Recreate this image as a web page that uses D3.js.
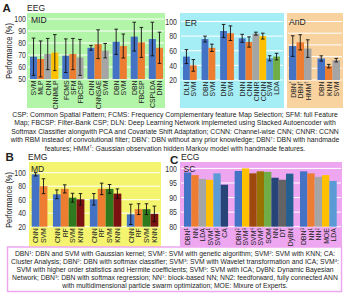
<!DOCTYPE html>
<html>
<head>
<meta charset="utf-8">
<script src="https://cdn.jsdelivr.net/npm/d3@7"></script>
<style>
  body { margin: 0; background: #fff; }
  svg { display: block; }
</style>
</head>
<body>
<svg id="chart" width="347" height="296"></svg>
<script>

// ---- data ----
const midGroups = [["SVM", "MLP", "CNN", "CNNMLP"], ["FCMS", "SFM", "FBCSP"], ["CNN", "CNNSAE", "SVM"], ["DBN", "SVM"], ["DBN", "FBCSP"], ["CSPLDA", "DNN"]];
const midValues = [[68.6, 66.7, 70.8, 72], [69.4, 70.8, 68], [76, 79, 73.6], [81, 77.5], [85.3, 80.5], [83.3, 76]];
const midErrors = [[15.5, 15, 13, 15], [14, 13, 15], [2, 12, 6], [10.5, 10], [12, 12.5], [14, 13]];
const midTicks = [50, 60, 70, 80, 90, 100];

const erGroups = [["DLN", "SVM"], ["DBN", "SVM"], ["DNN", "SVM"], ["DNN", "CNN", "CNNR", "CCNN", "SVM", "LDA"]];
const erValues = [[52, 40], [76, 64], [87, 84], [77, 72, 83.4, 80, 49.7, 52]];
const erErrors = [[9.5, 8], [4, 5], [9, 10], [5.5, 7, 2, 4, 3.5, 4.5]];
const erTicks = [20, 40, 60, 80, 100];

const andGroups = [["DBN^*", "DBN^†", "HMM^†"], ["DBN", "KNN", "SVM"]];
const andValues = [[58, 64.4, 53.7], [36.8, 23.7, 33.9]];
const andErrors = [[17.6, 13, 15], [4.5, 3, 3]];
const andTicks = [0, 20, 40, 60, 80, 100];

const emgGroups = [["CNN", "SVM"], ["CNN", "RF", "SVM", "KNN"], ["CNN", "RF", "SVM", "KNN"], ["CNN", "RF", "SVM", "KNN"]];
const emgValues = [[97.6, 80], [68, 76, 63, 60.6], [60.6, 76, 76, 69], [38.3, 46, 46, 39]];
const emgErrors = [[2.5, 11], [6.5, 6, 6.5, 8.5], [8.5, 8.5, 6.5, 7], [15, 8, 8, 11.5]];
const emgTicks = [20, 40, 60, 80, 100];

const ecgGroups = [["DBN^1", "NN", "LDA", "SVM^1", "SVM^2", "CA"], ["DBN^2", "SVM^3", "SVM^4", "SVM^5", "SOM", "NN", "DT", "DyBN"], ["DBN^3", "NN^1", "NN^2", "MOE", "LDA"]];
const ecgValues = [[98.6, 97.7, 96.4, 96.1, 98.3, 94.4], [99.1, 100, 98.3, 99, 98.8, 96.8, 96.1, 98.2], [99, 98.3, 97.1, 97.7, 95.7]];
const ecgTicks = [80, 85, 90, 95, 100];

const notesEEG = [
  "CSP: Common Spatial Pattern; FCMS: Frequency Complementary feature Map Selection; SFM: full Feature",
  "Map; FBCSP: Filter-Bank CSP; DLN: Deep Learning Network implemeted using Stacked Autoencoder with",
  "Softmax Classifier alongwith PCA and Covariate Shift Adaptation; CCNN: Channel-wise CNN; CNNR: CCNN",
  "with RBM instead of convolutional filter; DBN^*: DBN without any prior knowledge; DBN^†: DBN with handmade",
  "features; HMM^†: Gaussian observation hidden Markov model with handmade features."
];
const notesECG = [
  "DBN^1: DBN and SVM with Gaussian kernel; SVM^1: SVM with genetic algorithm; SVM^2: SVM with KNN; CA:",
  "Cluster Analysis; DBN^2: DBN with softmax classifier; SVM^3: SVM with Wavelet transformation and ICA; SVM^4:",
  "SVM with higher order statistics and Hermite coefficients; SVM^5: SVM with ICA; DyBN: Dynamic Bayesian",
  "Network; DBN^3: DBN with softmax regression; NN^1: block-based NN; NN2: feedforward, fully connected ANN",
  "with multidimensional particle swarm optimization; MOE: Mixure of Experts."
];

// ---- colours ----
const office = ["#4472C4", "#ED7D31", "#A5A5A5", "#FFC000", "#5B9BD5", "#70AD47"];
const emgColors = ["#4472C4", "#ED7D31", "#2F7A1F", "#7A1212"];
const ecgColors = [
  ["#4472C4", "#ED7D31", "#A5A5A5", "#FFC000", "#5B9BD5", "#264478"],
  ["#4472C4", "#FFC000", "#9E480E", "#997300", "#70AD47", "#264478", "#636363", "#255E91"],
  ["#4472C4", "#ED7D31", "#A5A5A5", "#FFC000", "#5B9BD5"]
];

const FONT = "'Liberation Sans', Arial, sans-serif";
const NARROW = 0.82;
const svg = d3.select("#chart");

// text with ^x superscripts
const rich = (sel, str, fs) => {
  str.split(/\^(.)/).forEach((t, i) => {
    if (!t) return;
    let ts = sel.append("tspan").text(t);
    if (i % 2) ts.attr("baseline-shift", "super").style("font-size", (fs * 0.62) + "px");
  });
  return sel;
}

const label = (x, y, str, fs, opts = {}) => {
  let t = svg.append("text")
    .attr("transform", `translate(${x},${y}) rotate(${opts.rot || 0}) scale(${opts.sx || NARROW},1)`)
    .attr("text-anchor", opts.anchor || "start")
    .attr("font-family", FONT)
    .attr("font-weight", opts.bold ? "bold" : "normal")
    .style("font-size", fs + "px")
    .attr("fill", opts.fill || "#222");
  if (opts.dy) t.attr("dy", opts.dy);
  return rich(t, str, fs);
}

const drawPanel = (p) => {
  let g = svg.append("g");
  g.append("rect")
    .attr("x", p.bg[0]).attr("y", p.bg[1])
    .attr("width", p.bg[2] - p.bg[0]).attr("height", p.bg[3] - p.bg[1])
    .attr("fill", p.fill);

  let y = d3.scaleLinear().domain(p.domain).range(p.yRange);

  let bars = [], pos = 0;
  p.groups.forEach((grp, gi) => {
    if (gi > 0) pos += p.gap;
    grp.forEach((name, bi) => {
      bars.push({
        name: name,
        value: p.values[gi][bi],
        err: p.errors ? p.errors[gi][bi] : null,
        color: p.color(gi, bi),
        pos: pos
      });
      pos += 1;
    });
  });
  let x = d3.scaleLinear().domain([0, pos]).range(p.xRange);
  let bw = x(1) - x(0);

  g.selectAll("line.grid").data(p.ticks).join("line")
    .attr("class", "grid")
    .attr("x1", p.bg[0] + 1).attr("x2", p.bg[2] - 1)
    .attr("y1", d => y(d)).attr("y2", d => y(d))
    .attr("stroke", "#fff").attr("stroke-width", 1);

  if (p.axisX != null) {
    let ax = svg.append("g")
      .attr("transform", `translate(${p.axisX},0)`)
      .call(d3.axisLeft(y).tickValues(p.ticks).tickSize(0).tickPadding(0));
    ax.select(".domain").remove();
    ax.selectAll("text")
      .attr("x", 0)
      .attr("transform", `scale(${NARROW},1)`)
      .attr("font-family", FONT)
      .style("font-size", "8.5px")
      .attr("fill", "#333");
  }

  let base = y(p.domain[0]);
  g.selectAll("rect.bar").data(bars).join("rect")
    .attr("class", "bar")
    .attr("x", d => x(d.pos))
    .attr("width", bw)
    .attr("y", d => y(d.value))
    .attr("height", d => base - y(d.value))
    .attr("fill", d => d.color);

  let eb = g.selectAll("g.err").data(bars.filter(d => d.err != null)).join("g").attr("class", "err")
    .attr("stroke", "#111").attr("stroke-width", 0.9);
  eb.append("line")
    .attr("x1", d => x(d.pos + 0.5)).attr("x2", d => x(d.pos + 0.5))
    .attr("y1", d => y(d.value - d.err)).attr("y2", d => y(d.value + d.err));
  eb.append("line")
    .attr("x1", d => x(d.pos + 0.5) - 1.8).attr("x2", d => x(d.pos + 0.5) + 1.8)
    .attr("y1", d => y(d.value - d.err)).attr("y2", d => y(d.value - d.err));
  eb.append("line")
    .attr("x1", d => x(d.pos + 0.5) - 1.8).attr("x2", d => x(d.pos + 0.5) + 1.8)
    .attr("y1", d => y(d.value + d.err)).attr("y2", d => y(d.value + d.err));

  bars.forEach(d => {
    label(x(d.pos + 0.5), base + 1.5, d.name, 8, { rot: -90, anchor: "end", dy: "0.35em", sx: 0.86 });
  });

  label(p.tag[0], p.tag[1], p.tag[2], 9.5, { sx: 0.9 });
}

// ---- EEG ----
drawPanel({
  bg: [27, 13, 165, 108], fill: "#B3F5A8",
  domain: [50, 100], yRange: [79, 19], xRange: [30, 163], gap: 0.55,
  ticks: midTicks, axisX: 26,
  groups: midGroups, values: midValues, errors: midErrors,
  color: (g, b) => office[b], tag: [31, 22.5, "MID"]
});
drawPanel({
  bg: [180, 13, 284, 108], fill: "#A6EEF5",
  domain: [20, 100], yRange: [80, 21.5], xRange: [183, 280], gap: 0.7,
  ticks: erTicks, axisX: 177,
  groups: erGroups, values: erValues, errors: erErrors,
  color: (g, b) => office[b], tag: [185, 25.5, "ER"]
});
drawPanel({
  bg: [287, 13, 343, 108], fill: "#F8D3A0",
  domain: [0, 100], yRange: [80, 21.5], xRange: [289, 340], gap: 0.8,
  ticks: andTicks, axisX: null,
  groups: andGroups, values: andValues, errors: andErrors,
  color: (g, b) => office[b], tag: [289, 24.5, "AnD"]
});

// ---- EMG ----
drawPanel({
  bg: [29, 162, 161, 247], fill: "#F4F46E",
  domain: [20, 100], yRange: [226.7, 172.7], xRange: [31.7, 158.3], gap: 0.7,
  ticks: emgTicks, axisX: 26,
  groups: emgGroups, values: emgValues, errors: emgErrors,
  color: (g, b) => emgColors[b], tag: [31, 171.5, "MD"]
});

// ---- ECG ----
drawPanel({
  bg: [180, 162, 342, 247], fill: "#EFA6F1",
  domain: [80, 100], yRange: [226.7, 168.4], xRange: [184, 336.7], gap: 0.9,
  ticks: ecgTicks, axisX: 177,
  groups: ecgGroups, values: ecgValues, errors: null,
  color: (g, b) => ecgColors[g][b], tag: [183.5, 171.5, "SC"]
});

// panel titles
label(2.5, 11.5, "A", 11.5, { bold: true, sx: 1 });
label(27, 11, "EEG", 9.5, { sx: 0.9 });
label(5.5, 160.5, "B", 11.5, { bold: true, sx: 1 });
label(28, 160, "EMG", 9.5, { sx: 0.9 });
label(170, 163.5, "C", 11.5, { bold: true, sx: 1 });
label(181, 159.5, "ECG", 9.5, { sx: 0.9 });

label(11.5, 51, "Performance (%)", 9, { rot: -90, anchor: "middle" });
label(11.5, 200, "Performance (%)", 9, { rot: -90, anchor: "middle" });

// ---- notes ----
svg.append("rect")
  .attr("x", 7.5).attr("y", 247)
  .attr("width", 334).attr("height", 44.5)
  .attr("fill", "#fff").attr("stroke", "#EFA6F1").attr("stroke-width", 1.5);

const notes = (lines, cx, y0, step, widest, target) => {
  let els = lines.map((l, i) => label(cx, y0 + i * step, l, 7, { anchor: "middle", sx: 1 }));
  let s = target / els[widest].node().getComputedTextLength();
  els.forEach((t, i) => t.attr("transform", `translate(${cx},${y0 + i * step}) scale(${s},1)`));
}
notes(notesEEG, 175, 116.7, 8.45, 0, 326);
notes(notesECG, 175, 256, 8.1, 1, 329);

</script>
</body>
</html>
